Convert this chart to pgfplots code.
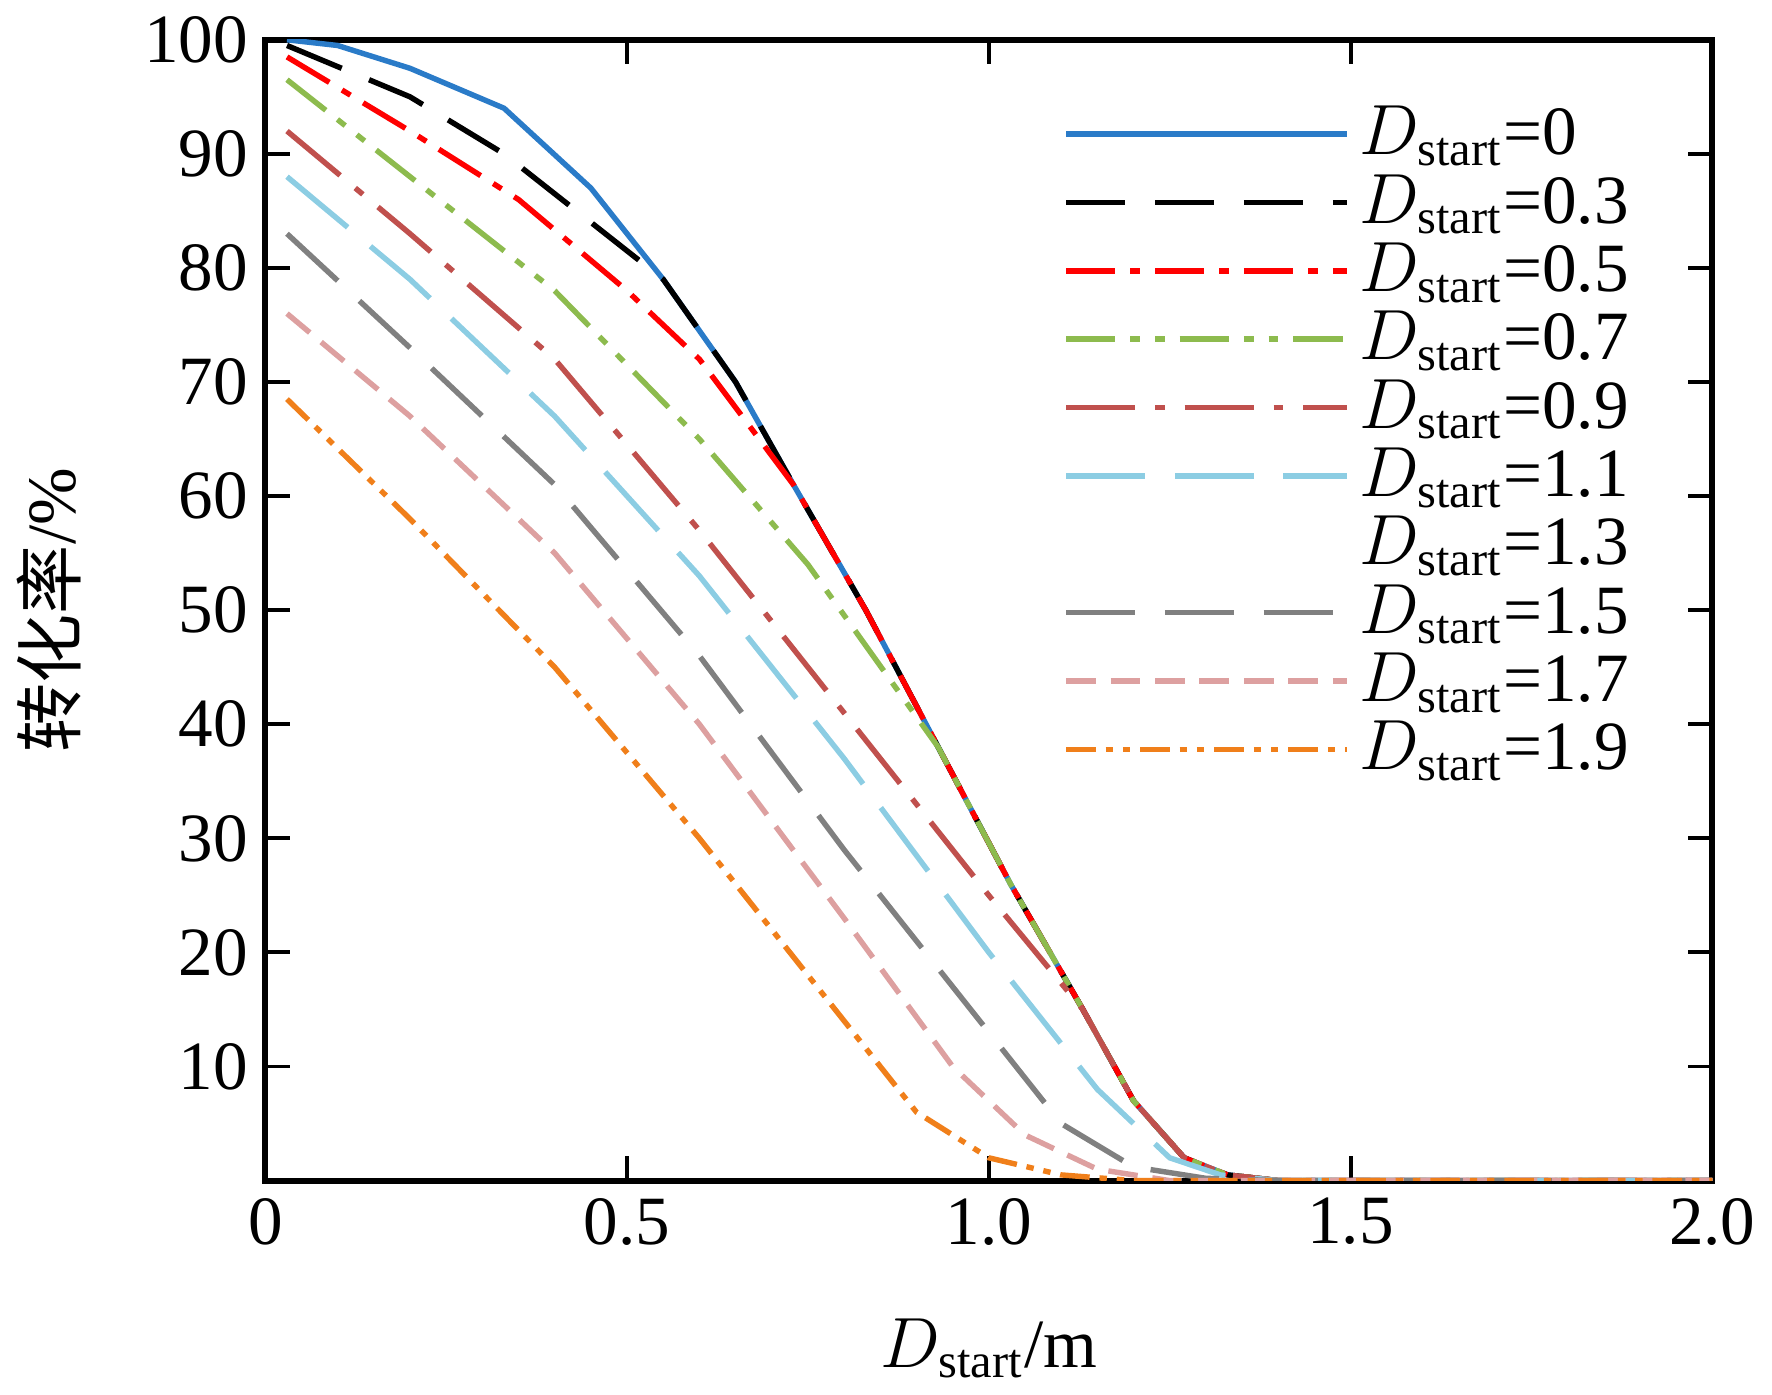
\documentclass[border=0pt]{standalone}
\usepackage{pgfplots}
\pgfplotsset{compat=1.18}
\usepackage{fontspec}
\setmainfont{Liberation Serif}
\newfontfamily\cjk{Noto Sans CJK SC}
\definecolor{cb}{HTML}{2A7BC8}
\definecolor{cg}{HTML}{8DBB4E}
\definecolor{cbr}{HTML}{C0504D}
\definecolor{clb}{HTML}{8CCDE3}
\definecolor{cgr}{HTML}{808080}
\definecolor{cpk}{HTML}{DDA0A0}
\definecolor{cor}{HTML}{F07F1A}
\begin{document}
\begin{tikzpicture}
\begin{axis}[
 width=293pt, height=231pt, scale only axis,
 xmin=0, xmax=2, ymin=0, ymax=100,
 xtick={0,0.5,1,1.5,2}, xticklabels={0,0.5,1.0,1.5,2.0},
 ytick={10,20,...,100},
 tick align=inside, tick style={black, line width=0.8pt},
 major tick length=5pt,
 axis line style={line width=1.2pt},
 every tick label/.append style={font=\fontsize{14}{14}\selectfont},
 /pgf/number format/assume math mode=true,
 xlabel={$D_{\mathrm{start}}$/m}, ylabel={{\cjk 转化率}/\%},
 label style={font=\fontsize{14}{14}\selectfont},
 xlabel style={yshift=-8pt},
 ylabel style={yshift=6pt},
 legend style={draw=none, fill=none, at={(0.96,0.96)}, anchor=north east, font=\fontsize{14}{14}\selectfont, row sep=-1.5pt},
 legend cell align=left,
 every axis plot/.append style={line width=1.1pt},
 legend image code/.code={\draw[#1] (0cm,0cm) -- (2cm,0cm);},
]
\addplot[cb, solid] coordinates {(0.03,100)(0.1,99.5)(0.2,97.5)(0.33,94)(0.45,87)(0.55,79)(0.65,70)(0.73,61)(0.83,50)(0.93,38)(1.03,26)(1.13,15)(1.2,7)(1.27,2)(1.33,0.5)(1.4,0)(2,0)};
\addplot[black, dash pattern=on 12pt off 6pt] coordinates {(0.03,99.5)(0.2,95)(0.33,90)(0.45,84)(0.55,79)(0.65,70)(0.73,61)(0.83,50)(0.93,38)(1.03,26)(1.13,15)(1.2,7)(1.27,2)(1.33,0.5)(1.4,0)(2,0)};
\addplot[red, dash pattern=on 10pt off 3pt on 2pt off 3pt] coordinates {(0.03,98.5)(0.2,92)(0.35,86)(0.5,78)(0.6,72)(0.73,61)(0.83,50)(0.93,38)(1.03,26)(1.13,15)(1.2,7)(1.27,2)(1.33,0.5)(1.4,0)(2,0)};
\addplot[cg, dash pattern=on 10pt off 3pt on 2pt off 3pt on 2pt off 3pt] coordinates {(0.03,96.5)(0.2,88)(0.4,78)(0.6,65)(0.75,54)(0.93,38)(1.03,26)(1.13,15)(1.2,7)(1.27,2)(1.33,0.5)(1.4,0)(2,0)};
\addplot[cbr, dash pattern=on 14pt off 4pt on 2pt off 4pt] coordinates {(0.03,92)(0.2,83)(0.4,72)(0.6,57)(0.8,41)(1.0,25)(1.13,15)(1.2,7)(1.27,2)(1.33,0.5)(1.4,0)(2,0)};
\addplot[clb, dash pattern=on 16pt off 6pt] coordinates {(0.03,88)(0.2,79)(0.4,67)(0.6,53)(0.8,37)(1.0,20)(1.15,8)(1.25,2)(1.32,0.5)(1.4,0)(2,0)};
\addlegendimage{white, opacity=0}
\addplot[cgr, dash pattern=on 14pt off 6pt] coordinates {(0.03,83)(0.2,73)(0.4,61)(0.6,46)(0.8,29)(1.0,13)(1.1,5)(1.2,1.2)(1.3,0.2)(1.4,0)(2,0)};
\addplot[cpk, dash pattern=on 6pt off 3pt] coordinates {(0.03,76)(0.2,67)(0.4,55)(0.6,40)(0.8,23)(0.95,10)(1.05,4)(1.15,1)(1.25,0)(2,0)};
\addplot[cor, dash pattern=on 6pt off 2pt on 1.5pt off 2pt on 1.5pt off 2pt] coordinates {(0.03,68.5)(0.2,58)(0.4,45)(0.6,30)(0.8,14)(0.9,6)(1.0,2)(1.1,0.5)(1.2,0)(2,0)};
\legend{$D_{\mathrm{start}}$=0,$D_{\mathrm{start}}$=0.3,$D_{\mathrm{start}}$=0.5,$D_{\mathrm{start}}$=0.7,$D_{\mathrm{start}}$=0.9,$D_{\mathrm{start}}$=1.1,$D_{\mathrm{start}}$=1.3,$D_{\mathrm{start}}$=1.5,$D_{\mathrm{start}}$=1.7,$D_{\mathrm{start}}$=1.9}
\end{axis}
\end{tikzpicture}
\end{document}
